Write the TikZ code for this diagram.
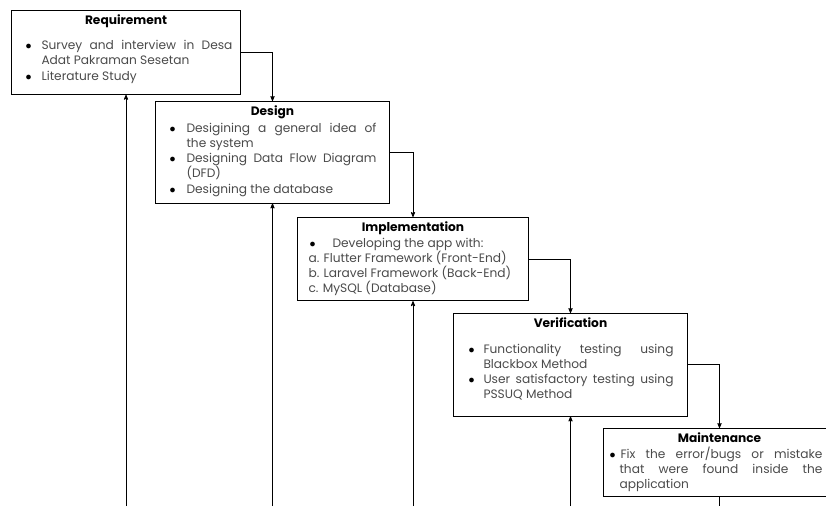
\documentclass[tikz,border=0pt]{standalone}
\usepackage{fontspec}
\setmainfont{Poppins}
\usetikzlibrary{arrows}
\setlength{\parindent}{0pt}
\definecolor{bodygrey}{HTML}{4A4A4A}
% bullet list used inside the phase boxes: #1 left margin, #2 label sep, #3 right margin
\newenvironment{phaselist}[3]{%
  \begin{list}{\phasedot}{\setlength\leftmargin{#1}\setlength\labelsep{#2}%
    \setlength\labelwidth{\dimexpr#1-#2\relax}\setlength\rightmargin{#3}%
    \setlength\topsep{0pt}\setlength\partopsep{0pt}%
    \setlength\itemsep{0pt}\setlength\parsep{0pt}}}{\end{list}}
\newcommand{\phasetitle}[1]{\centerline{\color{black}\bfseries #1}}
\newcommand{\phasedot}{\textcolor{black}{$\bullet$}}
% spaces may stretch but never shrink, and no hyphenation
\newcommand{\phasefont}{\fontsize{12.2}{15.3}\selectfont
  \spaceskip=\fontdimen2\font plus 2\fontdimen3\font minus 0pt\relax
  \hyphenpenalty=10000\exhyphenpenalty=10000\relax}

\begin{document}
\begin{tikzpicture}[x=1pt,y=-1pt,>=stealth',
  phase/.style={draw,line width=1pt,rectangle,anchor=north west,inner xsep=6pt,inner ysep=4.5pt,
    align=justify,font=\phasefont,text=bodygrey},
  flow/.style={->,line width=0.8pt}]

  \useasboundingbox (0,0) rectangle (826,506);

  \node[phase,text width=217pt] (req) at (11,10) {\phasetitle{Requirement}\vspace{9.5pt}
    \begin{phaselist}{24pt}{10pt}{2pt}
    \item Survey and interview in Desa Adat Pakraman Sesetan
    \item Literature Study
    \end{phaselist}\vspace*{6.5pt}};
  \node[phase,text width=222pt] (des) at (155,101) {\phasetitle{Design}\vspace{1pt}
    \begin{phaselist}{25pt}{11pt}{7pt}
    \item Desigining a general idea of the system
    \item Designing Data Flow Diagram (DFD)
    \item Designing the database
    \end{phaselist}\vspace*{2pt}};
  \node[phase,text width=219pt] (impl) at (297,217) {\phasetitle{Implementation}
    \hspace*{6pt}\phasedot\hspace{17pt}Developing the app with:\par
    \hspace*{5pt}a. Flutter Framework (Front-End)\par
    \hspace*{5pt}b. Laravel Framework (Back-End)\par
    \hspace*{5pt}c. MySQL (Database)};
  \node[phase,text width=222pt] (ver) at (453,313) {\phasetitle{Verification}\vspace{10pt}
    \begin{phaselist}{24pt}{9pt}{8pt}
    \item Functionality testing using Blackbox Method
    \item User satisfactory testing using PSSUQ Method
    \end{phaselist}\vspace*{11pt}};
  \node[phase,text width=220pt] (mnt) at (603,428) {\phasetitle{Maintenance}
    \begin{phaselist}{10pt}{5pt}{7pt}
    \item Fix the error/bugs or mistake that were found inside the application
    \end{phaselist}};

  % feedback lines come in from below the picture
  \coordinate (reqfoot) at (req.south |- 0,506);
  \coordinate (desfoot) at (des.south |- 0,506);
  \coordinate (implfoot) at (impl.south |- 0,506);
  \coordinate (verfoot) at (ver.south |- 0,506);
  \coordinate (mntfoot) at (mnt.south |- 0,506);

  \draw[flow] (req.east) -| (des.north);
  \draw[flow] (des.east) -| (impl.north);
  \draw[flow] (impl.east) -| (ver.north);
  \draw[flow] (ver.east) -| (mnt.north);

  \draw[flow] (reqfoot) -- (req.south);
  \draw[flow] (desfoot) -- (des.south);
  \draw[flow] (implfoot) -- (impl.south);
  \draw[flow] (verfoot) -- (ver.south);
  \draw[line width=0.8pt] (mnt.south) -- (mntfoot);
\end{tikzpicture}
\end{document}
